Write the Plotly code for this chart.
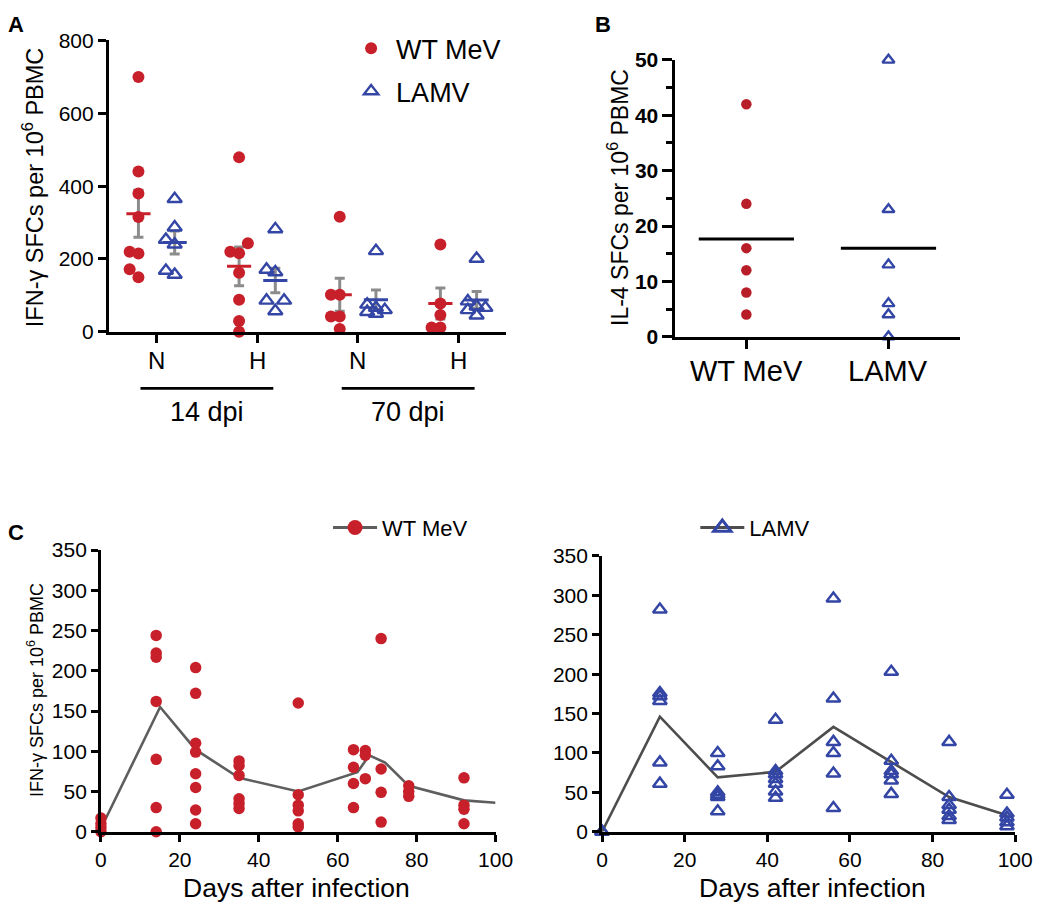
import math
import numpy as np
import plotly.graph_objects as go

# ---------------- data ----------------
# Panel A: IFN-gamma SFCs per 10^6 PBMC, by antigen (N / H) and time point
cats_A = ["N", "H", "N", "H"]
timepoints_A = ["14 dpi", "70 dpi"]
wt_A = [
    [700, 440, 380, 315, 220, 215, 172, 150],   # N, 14 dpi
    [479, 243, 220, 216, 162, 88, 30, 0],       # H, 14 dpi
    [316, 102, 102, 42, 42, 8],                 # N, 70 dpi
    [240, 78, 46, 12, 12],                      # H, 70 dpi
]
lamv_A = [
    [365, 287, 253, 240, 168, 157],
    [282, 171, 164, 86, 86, 57],
    [222, 75, 66, 60, 55, 50],
    [201, 84, 70, 66, 60, 45],
]

# Panel B: IL-4 SFCs per 10^6 PBMC
cats_B = ["WT MeV", "LAMV"]
wt_B = [42, 24, 16, 12, 8, 4]
lamv_B = [50, 23, 13, 6, 4, 0]

# Panel C: IFN-gamma SFCs over time
wt_days_C = [0, 14, 24, 35, 50, 64, 67, 71, 78, 92]
wt_vals_C = [
    [17, 10, 5, 0],
    [244, 222, 217, 162, 90, 30, 0],
    [204, 172, 110, 99, 72, 55, 27, 10],
    [88, 82, 70, 41, 35, 29],
    [160, 46, 33, 26, 10, 6],
    [102, 80, 60, 30],
    [101, 95, 66],
    [240, 78, 49, 12],
    [57, 50, 44],
    [67, 33, 28, 10],
]
wt_line_days_C = [0, 15, 24, 35, 50, 65, 68, 72, 78, 92, 100]
wt_line_vals_C = [4, 155, 102, 67, 50, 74, 95, 86, 57, 39, 36]

lamv_days_C = [0, 14, 28, 42, 56, 70, 84, 98]
lamv_vals_C = [
    [0, 0],
    [282, 176, 172, 166, 88, 61],
    [100, 83, 50, 47, 44, 26],
    [142, 77, 73, 67, 61, 51, 43],
    [296, 169, 114, 100, 74, 30],
    [203, 90, 77, 73, 65, 48],
    [114, 44, 34, 28, 20, 15],
    [47, 23, 18, 12, 7],
]
lamv_line_days_C = [0, 14, 28, 42, 56, 70, 84, 98]
lamv_line_vals_C = [0, 146, 69, 76, 133, 89, 44, 21]

# ---------------- style ----------------
PAGE_W, PAGE_H = 1050, 917
BODY_MARGIN = 8                      # default <body> margin of the page
W, H = PAGE_W - 2 * BODY_MARGIN, PAGE_H - 2 * BODY_MARGIN
RED = "#c8202b"
RED_B = "#b81e28"
BLUE = "#3446a5"
ERR_GRAY = "#8c8c8c"
LINE_GRAY = "#5e5e5e"
FONT = "Liberation Sans, Arial, sans-serif"
AXW = 2.7

def px2x(px):
    return (px - BODY_MARGIN) / W

def px2y(py):
    return 1 - (py - BODY_MARGIN) / H

# domains (page pixels)
A_x = (105, 512); A_y = (29, 328); A_rng = (0.525, 4.475)
B_x = (685, 976); B_y = (49, 333); B_rng = (-0.5, 1.5)
CL_x = (97, 501); CL_y = (552, 841)
CR_x = (610, 1033); CR_y = (558, 841)

def swarm(vals, ypx, xpx, step, thr):
    """simple beeswarm: returns x offsets (data units)"""
    placed = []
    offs = [0.0] * len(vals)
    for i in sorted(range(len(vals)), key=lambda k: vals[k]):
        y = vals[i] * ypx
        best, bestd = 0, -1
        for c in (0, -step, step):
            dmin = min([math.hypot(c - p[0], y - p[1]) for p in placed], default=1e9)
            if dmin >= thr:
                best = c
                break
            if dmin > bestd:
                bestd, best = dmin, c
        placed.append((best, y))
        offs[i] = best / xpx
    return offs

fig = go.Figure()

# ---------------- Panel A ----------------
A_ypx = (A_y[1] - A_y[0]) / 800.0
A_xpx = (A_x[1] - A_x[0]) / (A_rng[1] - A_rng[0])
OFF = 0.18
for series, sign, color in ((wt_A, -1, RED), (lamv_A, 1, BLUE)):
    means = [float(np.mean(g)) for g in series]
    sems = [float(np.std(g, ddof=1) / math.sqrt(len(g))) for g in series]
    xs = [i + 1 + sign * OFF for i in range(len(series))]
    fig.add_trace(go.Scatter(
        x=xs, y=means, mode="markers", marker=dict(opacity=0, size=2),
        error_y=dict(type="data", array=sems, color=ERR_GRAY, thickness=3, width=5),
        showlegend=False, hoverinfo="skip", xaxis="x", yaxis="y", cliponaxis=False))

for series, sign, color, sym, name, leg in (
        (wt_A, -1, RED, "circle", "WT MeV", "legend"),
        (lamv_A, 1, BLUE, "triangle-up-open", "LAMV", "legend2")):
    px_, py_ = [], []
    for i, g in enumerate(series):
        offs = swarm(g, A_ypx, A_xpx, 9, 11)
        for v, o in zip(g, offs):
            px_.append(i + 1 + sign * OFF + o)
            py_.append(v)
    mk = dict(symbol=sym, size=12, color=color)
    if sym.endswith("open"):
        mk["size"] = 12.5
        mk["line"] = dict(width=2.4, color=color)
    fig.add_trace(go.Scatter(x=px_, y=py_, mode="markers", marker=mk, name=name,
                             legend=leg, showlegend=True, xaxis="x", yaxis="y",
                             cliponaxis=False))

for series, sign, color in ((wt_A, -1, RED), (lamv_A, 1, BLUE)):
    lx, ly = [], []
    for i, g in enumerate(series):
        m = float(np.mean(g))
        c = i + 1 + sign * OFF
        lx += [c - 0.12, c + 0.12, None]
        ly += [m, m, None]
    fig.add_trace(go.Scatter(x=lx, y=ly, mode="lines", line=dict(color=color, width=3),
                             showlegend=False, hoverinfo="skip", xaxis="x", yaxis="y",
                             cliponaxis=False))

# ---------------- Panel B ----------------
B_ypx = (B_y[1] - B_y[0]) / 50.0
B_xpx = (B_x[1] - B_x[0]) / (B_rng[1] - B_rng[0])
for i, (g, color, sym) in enumerate(((wt_B, RED_B, "circle"), (lamv_B, BLUE, "triangle-up-open"))):
    offs = swarm(g, B_ypx, B_xpx, 16, 11)
    mk = dict(symbol=sym, size=10.5, color=color)
    if sym.endswith("open"):
        mk["line"] = dict(width=2.4, color=color)
    fig.add_trace(go.Scatter(x=[i + o for o in offs], y=g, mode="markers", marker=mk,
                             showlegend=False, xaxis="x2", yaxis="y2", cliponaxis=False))
lx, ly = [], []
for i, g in enumerate((wt_B, lamv_B)):
    m = float(np.mean(g))
    lx += [i - 0.335, i + 0.335, None]
    ly += [m, m, None]
fig.add_trace(go.Scatter(x=lx, y=ly, mode="lines", line=dict(color="black", width=3),
                         showlegend=False, hoverinfo="skip", xaxis="x2", yaxis="y2"))

# ---------------- Panel C ----------------
def flat(days, vals):
    xs, ys = [], []
    for d, g in zip(days, vals):
        for v in g:
            xs.append(d)
            ys.append(v)
    return xs, ys

fig.add_trace(go.Scatter(x=wt_line_days_C, y=wt_line_vals_C, mode="lines",
                         line=dict(color=LINE_GRAY, width=2.6), showlegend=False,
                         xaxis="x3", yaxis="y3", cliponaxis=False))
xs, ys = flat(wt_days_C, wt_vals_C)
fig.add_trace(go.Scatter(x=xs, y=ys, mode="markers",
                         marker=dict(symbol="circle", size=11.5, color=RED),
                         showlegend=False, xaxis="x3", yaxis="y3", cliponaxis=False))
fig.add_trace(go.Scatter(x=[None], y=[None], mode="lines+markers", name="WT MeV",
                         line=dict(color=LINE_GRAY, width=3.2),
                         marker=dict(symbol="circle", size=15, color=RED),
                         legend="legend3", showlegend=True, xaxis="x3", yaxis="y3"))

fig.add_trace(go.Scatter(x=lamv_line_days_C, y=lamv_line_vals_C, mode="lines",
                         line=dict(color="#4d4d4d", width=2.6), showlegend=False,
                         xaxis="x4", yaxis="y4", cliponaxis=False))
xs, ys = flat(lamv_days_C, lamv_vals_C)
fig.add_trace(go.Scatter(x=xs, y=ys, mode="markers",
                         marker=dict(symbol="triangle-up-open", size=12, color=BLUE,
                                     line=dict(width=2.5, color=BLUE)),
                         showlegend=False, xaxis="x4", yaxis="y4", cliponaxis=False))
fig.add_trace(go.Scatter(x=[None], y=[None], mode="lines+markers", name="LAMV",
                         line=dict(color="#4d4d4d", width=3.2),
                         marker=dict(symbol="triangle-up-open", size=15, color=BLUE,
                                     line=dict(width=3, color=BLUE)),
                         legend="legend4", showlegend=True, xaxis="x4", yaxis="y4"))

# ---------------- axes ----------------
def ax(**kw):
    base = dict(showline=True, linecolor="black", linewidth=AXW, ticks="outside",
                ticklen=8, tickwidth=2.5, tickcolor="black", showgrid=False,
                zeroline=False, tickfont=dict(family=FONT, size=21, color="black"),
                fixedrange=True)
    base.update(kw)
    return base

layout = dict(
    width=W, height=H, margin=dict(l=0, r=0, t=0, b=0),
    paper_bgcolor="white", plot_bgcolor="white",
    font=dict(family=FONT, color="black"),
    xaxis=ax(domain=[px2x(A_x[0]), px2x(A_x[1])], range=list(A_rng),
             tickvals=[1, 2, 3, 4], ticktext=cats_A, anchor="y",
             showticklabels=False),
    yaxis=ax(domain=[px2y(A_y[1]), px2y(A_y[0])], range=[0, 800],
             tickvals=[0, 200, 400, 600, 800], anchor="x"),
    xaxis2=ax(domain=[px2x(B_x[0]), px2x(B_x[1])], range=list(B_rng),
              tickvals=[0, 1], ticktext=cats_B, anchor="y2", ticklen=9,
              showticklabels=False),
    yaxis2=ax(domain=[px2y(B_y[1]), px2y(B_y[0])], range=[0, 50],
              tickvals=[0, 10, 20, 30, 40, 50], anchor="x2", ticklen=10,
              tickfont=dict(family=FONT, size=21, color="black", weight="bold"),
              minor=dict(dtick=5, ticklen=6, tickwidth=2.5, tickcolor="black",
                         ticks="outside")),
    xaxis3=ax(domain=[px2x(CL_x[0]), px2x(CL_x[1])], range=[0, 100], dtick=20,
              anchor="y3", ticklen=7),
    yaxis3=ax(domain=[px2y(CL_y[1]), px2y(CL_y[0])], range=[0, 350], dtick=50,
              anchor="x3", ticklen=7),
    xaxis4=ax(domain=[px2x(CR_x[0]), px2x(CR_x[1])], range=[0, 100], dtick=20,
              anchor="y4", ticklen=7),
    yaxis4=ax(domain=[px2y(CR_y[1]), px2y(CR_y[0])], range=[0, 350], dtick=50,
              anchor="x4", ticklen=7),
    legend=dict(x=px2x(348), y=px2y(37.5), xanchor="left", yanchor="middle",
                font=dict(family=FONT, size=27, color="black"),
                bgcolor="rgba(0,0,0,0)", itemwidth=40),
    legend2=dict(x=px2x(348), y=px2y(81.5), xanchor="left", yanchor="middle",
                 font=dict(family=FONT, size=27, color="black"),
                 bgcolor="rgba(0,0,0,0)", itemwidth=40),
    legend3=dict(x=px2x(329.5), y=px2y(529), xanchor="left", yanchor="middle",
                 font=dict(family=FONT, size=22, color="black"),
                 bgcolor="rgba(0,0,0,0)", itemwidth=44),
    legend4=dict(x=px2x(705.5), y=px2y(529), xanchor="left", yanchor="middle",
                 font=dict(family=FONT, size=22, color="black"),
                 bgcolor="rgba(0,0,0,0)", itemwidth=44),
)
fig.update_layout(**layout)

# ---------------- annotations / shapes ----------------
def xA_paper(c):
    return px2x(A_x[0]) + (c - A_rng[0]) / (A_rng[1] - A_rng[0]) * (px2x(A_x[1]) - px2x(A_x[0]))

# category labels of panel A and B (placed as text for exact vertical position)
for i, lab in enumerate(cats_A):
    fig.add_annotation(x=i + 1, xref="x", y=px2y(357), yref="paper", text=lab,
                       showarrow=False, font=dict(family=FONT, size=24, color="black"),
                       xanchor="center", yanchor="middle")
for i, lab in enumerate(cats_B):
    fig.add_annotation(x=i, xref="x2", y=px2y(368), yref="paper", text=lab,
                       showarrow=False, font=dict(family=FONT, size=29, color="black"),
                       xanchor="center", yanchor="middle")

for k, lab in enumerate(timepoints_A):
    c = 1.5 + 2 * k
    fig.add_shape(type="line", xref="paper", yref="paper",
                  x0=xA_paper(c - 0.66), x1=xA_paper(c + 0.66),
                  y0=px2y(386), y1=px2y(386), line=dict(color="black", width=2.7))
    fig.add_annotation(x=c, xref="x", y=px2y(410), yref="paper", text=lab,
                       showarrow=False, font=dict(family=FONT, size=27, color="black"),
                       xanchor="center", yanchor="middle")

ann_common = dict(xref="paper", yref="paper", showarrow=False, xanchor="center",
                  yanchor="middle")
fig.add_annotation(x=px2x(27), y=px2y(180), text="IFN-γ SFCs per 10<sup>6</sup> PBMC",
                   textangle=-90, font=dict(family=FONT, size=23.5, color="black"), **ann_common)
fig.add_annotation(x=px2x(627), y=px2y(190), text="IL-4 SFCs per 10<sup>6</sup> PBMC",
                   textangle=-90, font=dict(family=FONT, size=23, color="black"), **ann_common)
fig.add_annotation(x=px2x(30), y=px2y(695), text="IFN-γ SFCs per 10<sup>6</sup> PBMC",
                   textangle=-90, font=dict(family=FONT, size=18, color="black"), **ann_common)
for cx in (297.5, 825):
    fig.add_annotation(x=px2x(cx), y=px2y(899), text="Days after infection",
                       font=dict(family=FONT, size=26.5, color="black"), **ann_common)
for lab, (lx_, ly_) in (("A", (10, 13)), ("B", (611, 13)), ("C", (10, 534))):
    fig.add_annotation(x=px2x(lx_), y=px2y(ly_), text="<b>%s</b>" % lab,
                       font=dict(family=FONT, size=22, color="black"), **ann_common)

fig.write_html("out.html", config={"displayModeBar": False})
